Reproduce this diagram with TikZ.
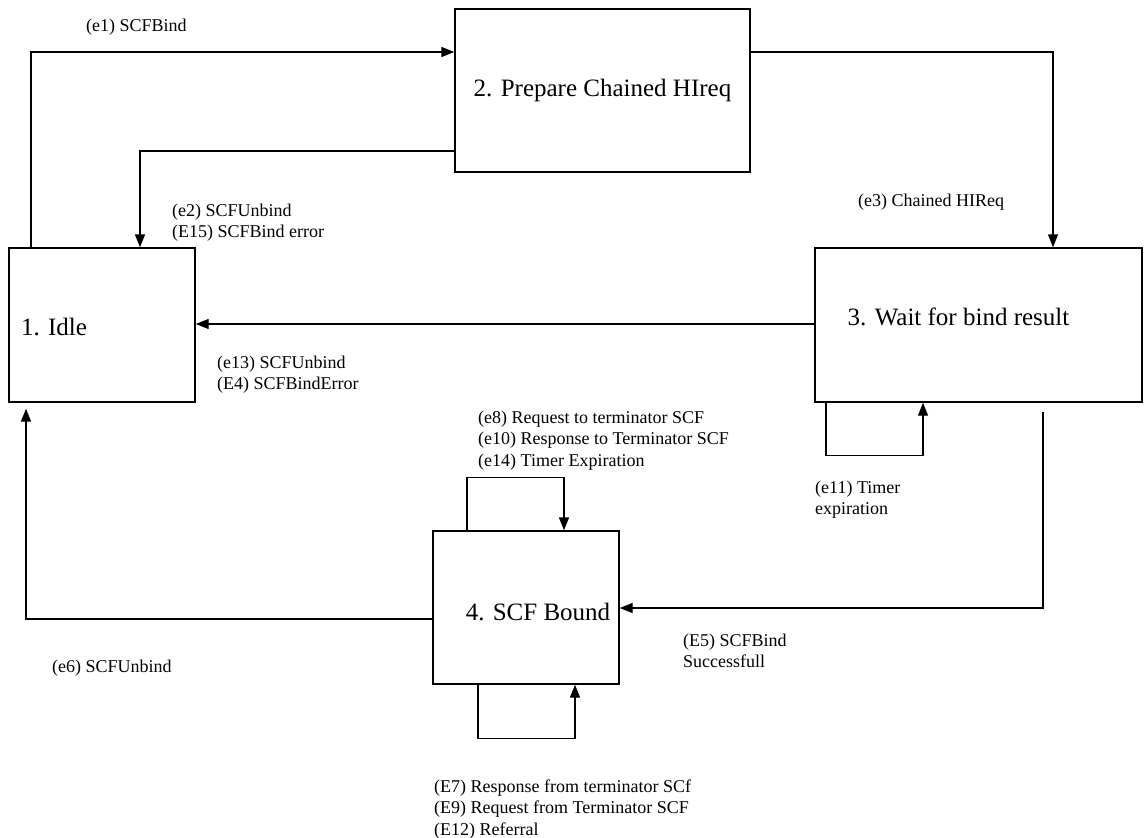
\documentclass[tikz,border=0pt]{standalone}
\usepackage{fontspec}
\setmainfont{Liberation Serif}
\usetikzlibrary{arrows.meta,calc}
\begin{document}
\begin{tikzpicture}[x=1pt,y=-1pt,
  state/.style={draw=black, line width=1.4pt, inner sep=0pt, font=\fontsize{25}{30}\selectfont},
  lbl/.style={anchor=north west, inner sep=0pt, align=left, font=\fontsize{18}{21.5}\selectfont},
  arr/.style={line width=1.4pt, -{Triangle[length=13pt,width=10pt]}}]
\path[fill=white,use as bounding box] (0,0) rectangle (1144,838);

% states
\node[state, minimum width=186pt, minimum height=154pt, text height=21pt, text depth=0pt] (s1) at (102,325) {1. Idle\hspace*{96pt}};
\node[state, minimum width=295pt, minimum height=163pt, text height=18pt, text depth=6pt] (s2) at (602.5,90.5) {2. Prepare Chained HIreq};
\node[state, minimum width=327pt, minimum height=154pt, text height=13pt, text depth=12pt] (s3) at (978.5,325) {3. Wait for bind result\hspace*{40pt}};
\node[state, minimum width=186pt, minimum height=153pt, text height=26pt, text depth=0pt] (s4) at (526,607.5) {\hspace*{24pt}4. SCF Bound};

% connectors
\coordinate (c5) at (1043,412);
\draw[arr] (s1.north -| 31,0) |- (s2.west |- 0,52);
\draw[arr] (s2.west |- 0,151) -| (s1.north -| 140,0);
\draw[arr] (s2.east |- 0,52) -| (s3.north -| 1053,0);
\draw[arr] (s3.west |- 0,324) -- (s1.east |- 0,324);
\draw[arr] (s3.south -| 826,0) -- ++(0,53) -| (s3.south -| 923,0);
\draw[arr] (c5) |- (s4.east |- 0,608);
\draw[arr, shorten >=6pt] (s4.west |- 0,619) -| (s1.south -| 26,0);
\draw[arr] (s4.north -| 467,0) -- ++(0,-53) -| (s4.north -| 564,0);
\draw[arr] (s4.south -| 478,0) -- ++(0,54) -| (s4.south -| 575,0);

% labels
\node[lbl] (l1) at (86,18.5) {(e1) SCFBind};
\node[lbl] (l2) at (172,203.5) {(e2) SCFUnbind\\(E15) SCFBind error};
\node[lbl] (l3) at (858,193.5) {(e3) Chained HIReq};
\node[lbl] (l13) at (217,355.5) {(e13) SCFUnbind\\(E4) SCFBindError};
\node[lbl] (l11) at (815,480.5) {(e11) Timer\\expiration};
\node[lbl] (l8) at (478,410.5) {(e8) Request to terminator SCF\\(e10) Response to Terminator SCF\\(e14) Timer Expiration};
\node[lbl] (l5) at (683,633.5) {(E5) SCFBind\\Successfull};
\node[lbl] (l6) at (52,659.5) {(e6) SCFUnbind};
\node[lbl] (l7) at (434,779.5) {(E7) Response from terminator SCf\\(E9) Request from Terminator SCF\\(E12) Referral};
\end{tikzpicture}
\end{document}
